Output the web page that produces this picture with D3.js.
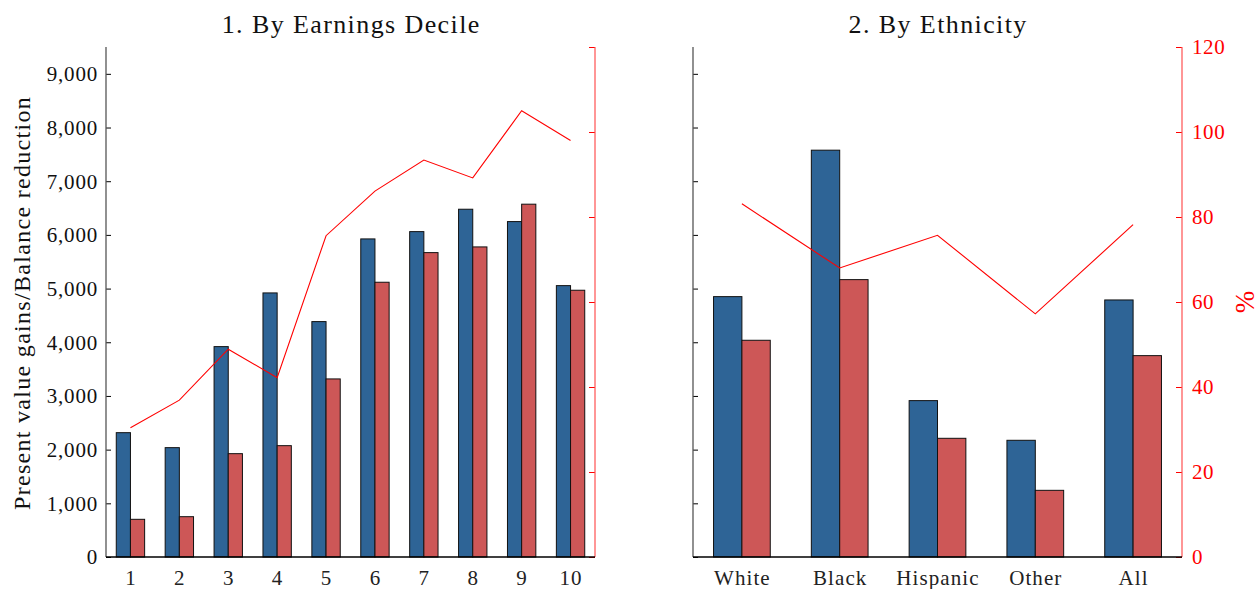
<!DOCTYPE html>
<html>
<head>
<meta charset="utf-8">
<script src="https://cdn.jsdelivr.net/npm/d3@7"></script>
<style>
  html, body { margin: 0; padding: 0; background: #fff; }
  svg { display: block; }
  text { font-family: "Liberation Serif", "DejaVu Serif", serif; }
</style>
</head>
<body>
<svg id="chart" width="1260" height="589"></svg>
<script>
// ---------- DATA ----------
const deciles = ["1","2","3","4","5","6","7","8","9","10"];
const decilePVGains = [2316, 2037, 3919, 4919, 4385, 5925, 6061, 6478, 6248, 5055];
const decileBalanceReduction = [702, 751, 1925, 2074, 3317, 5118, 5670, 5776, 6572, 4969];
const decilePercent = [30.4, 36.9, 48.9, 42.2, 75.6, 86.1, 93.4, 89.2, 105.0, 98.0];

const ethnicities = ["White", "Black", "Hispanic", "Other", "All"];
const ethPVGains = [4850, 7578, 2913, 2174, 4788];
const ethBalanceReduction = [4037, 5167, 2211, 1242, 3751];
const ethPercent = [83.1, 68.0, 75.7, 57.2, 78.2];

const leftTicks = [0, 1000, 2000, 3000, 4000, 5000, 6000, 7000, 8000, 9000];
const rightTicks = [0, 20, 40, 60, 80, 100, 120];

const titles = ["1. By Earnings Decile", "2. By Ethnicity"];
const yLabel = "Present value gains/Balance reduction";
const y2Label = "%";

// ---------- STYLE ----------
const blue = "#2e6496";
const redBar = "#cd5757";
const red = "#ff0000";

const svg = d3.select("#chart");
const plotTop = 47, plotBottom = 557;

const yLeft = d3.scaleLinear().domain([0, 9500]).range([plotBottom, plotTop]);
const yRight = d3.scaleLinear().domain([0, 120]).range([plotBottom, plotTop]);

const panels = [
  { x0: 106, x1: 595, cats: deciles, a: decilePVGains, b: decileBalanceReduction, p: decilePercent, title: titles[0], leftLabels: true, rightLabels: false },
  { x0: 693, x1: 1182, cats: ethnicities, a: ethPVGains, b: ethBalanceReduction, p: ethPercent, title: titles[1], leftLabels: false, rightLabels: true }
];

panels.forEach(P => {
  const g = svg.append("g");
  const x = d3.scaleBand().domain(P.cats).range([P.x0, P.x1]).padding(0);
  const bw = x.bandwidth() * 0.29;
  const cx = d => x(d) + x.bandwidth() / 2;

  // bars
  g.selectAll("rect.a").data(P.cats).join("rect")
    .attr("x", d => cx(d) - bw).attr("width", bw)
    .attr("y", (d, i) => yLeft(P.a[i])).attr("height", (d, i) => plotBottom - yLeft(P.a[i]))
    .attr("fill", blue).attr("stroke", "#111").attr("stroke-width", 1);
  g.selectAll("rect.b").data(P.cats).join("rect")
    .attr("x", d => cx(d)).attr("width", bw)
    .attr("y", (d, i) => yLeft(P.b[i])).attr("height", (d, i) => plotBottom - yLeft(P.b[i]))
    .attr("fill", redBar).attr("stroke", "#111").attr("stroke-width", 1);

  // line
  const line = d3.line().x((d, i) => cx(P.cats[i])).y(d => yRight(d));
  g.append("path").datum(P.p).attr("d", line)
    .attr("fill", "none").attr("stroke", red).attr("stroke-width", 1.1);

  // left axis
  const la = g.append("g").attr("transform", `translate(${P.x0},0)`)
    .call(d3.axisRight(yLeft).tickValues(leftTicks).tickSize(5).tickFormat(""));
  la.select(".domain").remove();
  la.selectAll(".tick line").attr("stroke", "#000");
  g.append("line").attr("x1", P.x0).attr("x2", P.x0).attr("y1", plotTop).attr("y2", plotBottom)
    .attr("stroke", "#555").attr("stroke-width", 1.3);
  if (P.leftLabels) {
    g.selectAll("text.yl").data(leftTicks).join("text")
      .attr("x", P.x0 - 8).attr("y", d => yLeft(d)).attr("dy", "0.35em")
      .attr("text-anchor", "end").attr("font-size", 21).attr("letter-spacing", 0.8)
      .attr("fill", "#111")
      .text(d => d3.format(",")(d));
  }

  // right axis
  const ra = g.append("g").attr("transform", `translate(${P.x1},0)`)
    .call(d3.axisLeft(yRight).tickValues(rightTicks).tickSize(6).tickFormat(""));
  ra.select(".domain").remove();
  ra.selectAll(".tick line").attr("stroke", red);
  g.append("line").attr("x1", P.x1).attr("x2", P.x1).attr("y1", plotTop).attr("y2", plotBottom)
    .attr("stroke", "#ff5050").attr("stroke-width", 1.2);
  if (P.rightLabels) {
    g.selectAll("text.yr").data(rightTicks).join("text")
      .attr("x", P.x1 + 10).attr("y", d => yRight(d)).attr("dy", "0.35em")
      .attr("text-anchor", "start").attr("font-size", 21).attr("letter-spacing", 0.6)
      .attr("fill", red)
      .text(d => d);
  }

  // bottom axis
  g.append("line").attr("x1", P.x0).attr("x2", P.x1).attr("y1", plotBottom).attr("y2", plotBottom)
    .attr("stroke", "#000").attr("stroke-width", 1.3);
  g.selectAll("text.xl").data(P.cats).join("text")
    .attr("x", d => cx(d) + 0.5).attr("y", 585)
    .attr("text-anchor", "middle").attr("font-size", 21).attr("letter-spacing", 1.1)
    .attr("fill", "#222")
    .text(d => d);

  // title
  g.append("text").attr("x", (P.x0 + P.x1) / 2 + 0.7).attr("y", 33)
    .attr("text-anchor", "middle").attr("font-size", 26).attr("letter-spacing", 1.4)
    .attr("fill", "#111")
    .text(P.title);
});

svg.append("text").attr("transform", "translate(30,303) rotate(-90)")
  .attr("text-anchor", "middle").attr("font-size", 24).attr("letter-spacing", 1.3)
  .attr("fill", "#111")
  .text(yLabel);
svg.append("text").attr("transform", "translate(1254,302) rotate(-90)")
  .attr("text-anchor", "middle").attr("font-size", 27).attr("fill", red)
  .text(y2Label);
</script>
</body>
</html>
